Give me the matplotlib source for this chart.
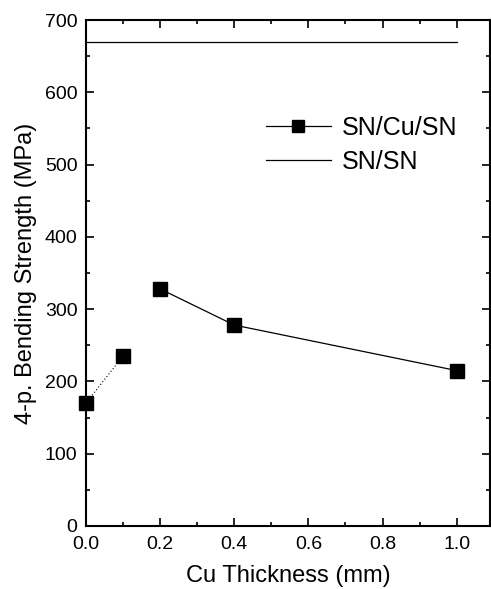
import matplotlib
matplotlib.use("Agg")
import matplotlib.pyplot as plt
from matplotlib.lines import Line2D
from matplotlib.ticker import MultipleLocator

plt.rcParams['font.family'] = ['Liberation Sans', 'DejaVu Sans']

cu_thickness = [0.0, 0.1, 0.2, 0.4, 1.0]
strength_sncusn = [170, 235, 328, 278, 215]
sn_sn_x = [0.0, 1.0]
sn_sn_y = [670, 670]

fig = plt.figure(figsize=(4.91, 5.89), dpi=100)
ax = fig.add_axes([0.175, 0.107, 0.823, 0.859])

# SN/SN reference line
ax.plot(sn_sn_x, sn_sn_y, color='black', lw=0.9)
# dotted segment 0 -> 0.1
ax.plot(cu_thickness[0:2], strength_sncusn[0:2], color='black', lw=0.8, ls=(0, (1, 2)))
# solid segment 0.2 -> 1.0
ax.plot(cu_thickness[2:], strength_sncusn[2:], color='black', lw=0.9)
ax.plot(cu_thickness, strength_sncusn, ls='none', marker='s', ms=10, color='black', clip_on=False, zorder=5)

ax.set_xlim(0, 1.09)
ax.set_ylim(0, 700)
ax.xaxis.set_major_locator(MultipleLocator(0.2))
ax.xaxis.set_minor_locator(MultipleLocator(0.1))
ax.yaxis.set_major_locator(MultipleLocator(100))
ax.yaxis.set_minor_locator(MultipleLocator(50))
ax.set_xticks([0.0, 0.2, 0.4, 0.6, 0.8, 1.0])
ax.set_xticklabels(['0.0', '0.2', '0.4', '0.6', '0.8', '1.0'])
ax.tick_params(which='both', direction='in', top=True, right=True, labelsize=14, width=1.2)
ax.tick_params(which='major', length=6)
ax.tick_params(which='minor', length=3)
ax.tick_params(axis='x', which='major', pad=7)
ax.tick_params(axis='y', which='major', pad=6)
for s in ax.spines.values():
    s.set_linewidth(1.5)

ax.set_xlabel('Cu Thickness (mm)', fontsize=17, labelpad=9)
ax.set_ylabel('4-p. Bending Strength (MPa)', fontsize=17, labelpad=6)

handles = [Line2D([], [], color='black', lw=0.9, marker='s', ms=9),
           Line2D([], [], color='black', lw=0.9)]
ax.legend(handles, ['SN/Cu/SN', 'SN/SN'], loc='upper left', bbox_to_anchor=(0.445, 0.81),
          frameon=False, fontsize=18, handlelength=2.6, labelspacing=0.4,
          handletextpad=0.45, borderpad=0, borderaxespad=0)

fig.savefig('out.png', dpi=100)
